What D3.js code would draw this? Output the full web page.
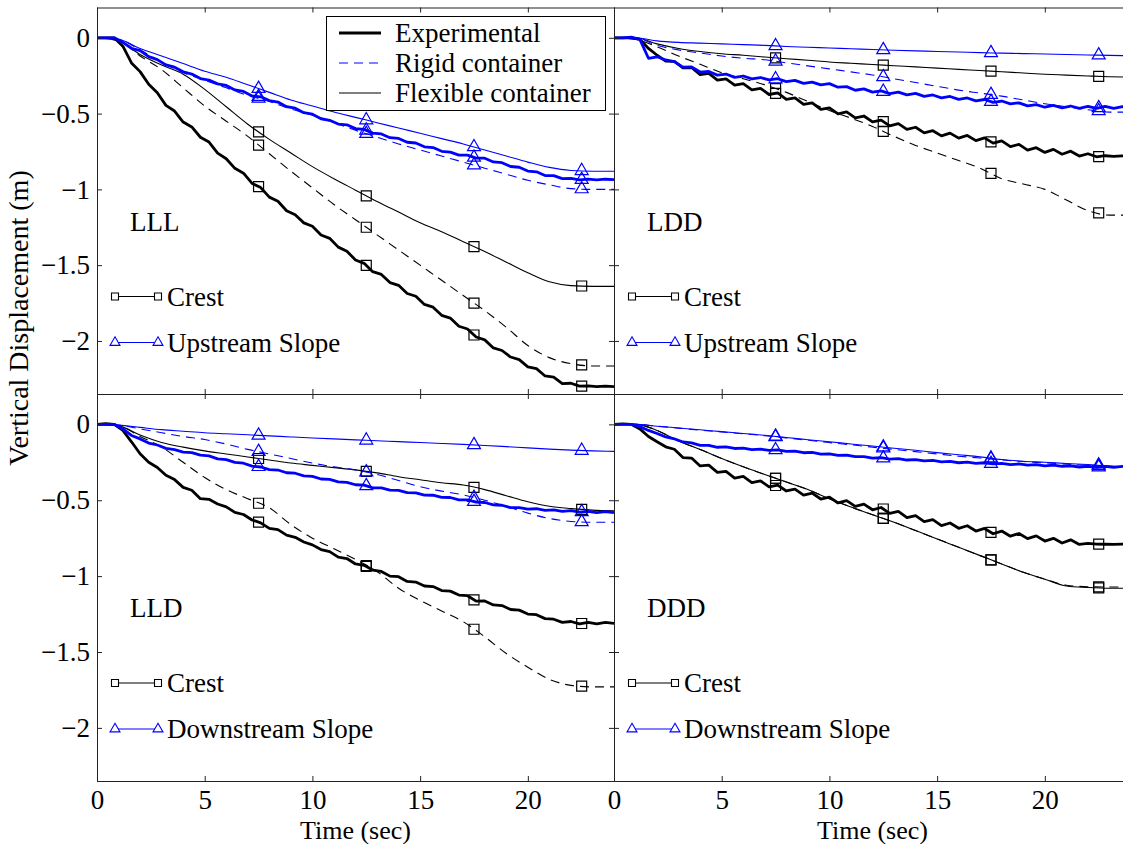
<!DOCTYPE html>
<html>
<head>
<meta charset="utf-8">
<script src="https://cdn.jsdelivr.net/npm/d3@7"></script>
<style>
  html, body { margin: 0; padding: 0; background: #fff; }
  svg { display: block; }
</style>
</head>
<body>
<div id="chart"></div>
<script>
// time grids (sec): simulations read every 1 s, experiments every 0.4 s
const tSim = [0,1,2,3,4,5,6,7,8,9,10,11,12,13,14,15,16,17,18,19,20,21,22,23,24];
const tExp = [0,0.4,0.8,1.2,1.6,2,2.4,2.8,3.2,3.6,4,4.4,4.8,5.2,5.6,6,6.4,6.8,7.2,7.6,8,8.4,8.8,9.2,9.6,
  10,10.4,10.8,11.2,11.6,12,12.4,12.8,13.2,13.6,14,14.4,14.8,15.2,15.6,16,16.4,16.8,17.2,17.6,18,18.4,18.8,
  19.2,19.6,20,20.4,20.8,21.2,21.6,22,22.4,22.8,23.2,23.6,24];
const markerTimes = [7.5, 12.5, 17.5, 22.5];
const xTicks = [0, 5, 10, 15, 20];
const yTicks = [0, -0.5, -1, -1.5, -2];

// ---- LLL ----
const lllCrestExp = [0,0,0,-0.055,-0.166,-0.223,-0.306,-0.363,-0.446,-0.483,-0.556,-0.588,-0.656,-0.688,-0.761,-0.798,
  -0.861,-0.893,-0.961,-0.988,-1.051,-1.078,-1.141,-1.168,-1.221,-1.243,-1.301,-1.323,-1.381,-1.408,-1.466,-1.488,
  -1.543,-1.561,-1.615,-1.633,-1.687,-1.705,-1.759,-1.777,-1.831,-1.849,-1.903,-1.921,-1.974,-1.993,-2.046,-2.063,
  -2.106,-2.123,-2.171,-2.183,-2.231,-2.238,-2.281,-2.279,-2.298,-2.296,-2.302,-2.298,-2.301];
const lllCrestRigid = [0,-0.02,-0.12,-0.21,-0.33,-0.45,-0.55,-0.65,-0.765,-0.88,-0.99,-1.1,-1.2,-1.3,-1.4,-1.5,-1.6,-1.7,-1.8,-1.91,-2.03,-2.11,-2.15,-2.165,-2.165];
const lllCrestFlex = [0,-0.02,-0.11,-0.18,-0.24,-0.34,-0.455,-0.57,-0.67,-0.76,-0.85,-0.93,-1.005,-1.08,-1.15,-1.22,-1.28,-1.345,-1.41,-1.48,-1.55,-1.61,-1.635,-1.64,-1.64];
const lllSlopeExp = [0,0,0,-0.03,-0.069,-0.084,-0.124,-0.144,-0.179,-0.194,-0.224,-0.239,-0.269,-0.279,-0.304,-0.314,
  -0.344,-0.354,-0.384,-0.389,-0.414,-0.424,-0.454,-0.464,-0.494,-0.504,-0.534,-0.544,-0.569,-0.574,-0.599,-0.604,
  -0.629,-0.634,-0.659,-0.664,-0.689,-0.694,-0.719,-0.724,-0.749,-0.754,-0.774,-0.774,-0.794,-0.794,-0.819,-0.824,
  -0.849,-0.854,-0.879,-0.884,-0.909,-0.909,-0.929,-0.927,-0.937,-0.932,-0.937,-0.933,-0.936];
const lllSlopeRigid = [0,-0.01,-0.08,-0.16,-0.23,-0.28,-0.33,-0.38,-0.42,-0.47,-0.51,-0.56,-0.61,-0.655,-0.7,-0.74,-0.78,-0.82,-0.86,-0.9,-0.94,-0.97,-0.995,-1,-1];
const lllSlopeFlex = [0,-0.01,-0.07,-0.12,-0.17,-0.22,-0.26,-0.31,-0.36,-0.41,-0.45,-0.49,-0.525,-0.56,-0.595,-0.63,-0.665,-0.7,-0.74,-0.78,-0.82,-0.855,-0.875,-0.88,-0.88];

// ---- LDD ----
const lddCrestExp = [0,0,0,-0.01,-0.07,-0.115,-0.154,-0.156,-0.199,-0.196,-0.243,-0.235,-0.279,-0.271,-0.312,-0.302,
  -0.343,-0.333,-0.374,-0.364,-0.406,-0.397,-0.439,-0.429,-0.472,-0.462,-0.502,-0.489,-0.528,-0.516,-0.555,-0.543,
  -0.581,-0.566,-0.604,-0.59,-0.627,-0.613,-0.647,-0.629,-0.662,-0.644,-0.678,-0.66,-0.695,-0.68,-0.718,-0.703,
  -0.741,-0.725,-0.756,-0.736,-0.768,-0.748,-0.78,-0.765,-0.785,-0.778,-0.782,-0.779,-0.781];
const lddCrestRigid = [0,-0.01,-0.06,-0.12,-0.175,-0.23,-0.27,-0.31,-0.36,-0.42,-0.48,-0.53,-0.585,-0.65,-0.71,-0.76,-0.81,-0.86,-0.93,-0.965,-1,-1.07,-1.14,-1.17,-1.17];
const lddCrestFlex = [0,0,-0.04,-0.07,-0.09,-0.105,-0.115,-0.127,-0.138,-0.148,-0.16,-0.168,-0.176,-0.184,-0.192,-0.2,-0.208,-0.216,-0.224,-0.232,-0.24,-0.246,-0.252,-0.257,-0.26];
const lddSlopeExp = [0,0,0.005,-0.01,-0.135,-0.125,-0.146,-0.157,-0.193,-0.192,-0.226,-0.222,-0.246,-0.239,-0.261,-0.252,
  -0.271,-0.262,-0.278,-0.27,-0.289,-0.281,-0.301,-0.292,-0.311,-0.302,-0.326,-0.322,-0.346,-0.337,-0.358,-0.35,
  -0.368,-0.358,-0.376,-0.367,-0.386,-0.377,-0.396,-0.387,-0.406,-0.397,-0.416,-0.407,-0.426,-0.417,-0.436,-0.429,
  -0.449,-0.441,-0.458,-0.446,-0.462,-0.45,-0.465,-0.452,-0.466,-0.452,-0.466,-0.454,-0.462];
const lddSlopeRigid = [0,0,-0.05,-0.08,-0.1,-0.12,-0.135,-0.145,-0.165,-0.185,-0.205,-0.225,-0.245,-0.27,-0.295,-0.32,-0.345,-0.365,-0.385,-0.41,-0.435,-0.455,-0.475,-0.49,-0.49];
const lddSlopeFlex = [0,0,-0.02,-0.03,-0.035,-0.04,-0.045,-0.05,-0.057,-0.062,-0.067,-0.072,-0.077,-0.082,-0.086,-0.09,-0.094,-0.098,-0.101,-0.104,-0.107,-0.11,-0.113,-0.116,-0.118];

// ---- LLD ----
const lldCrestExp = [0,0.005,0,-0.04,-0.115,-0.194,-0.25,-0.284,-0.335,-0.364,-0.415,-0.434,-0.49,-0.494,-0.525,-0.544,
  -0.58,-0.594,-0.63,-0.649,-0.685,-0.694,-0.73,-0.744,-0.775,-0.794,-0.825,-0.839,-0.875,-0.884,-0.92,-0.929,
  -0.96,-0.969,-1,-1.004,-1.035,-1.039,-1.065,-1.069,-1.095,-1.099,-1.125,-1.129,-1.165,-1.164,-1.19,-1.194,
  -1.22,-1.224,-1.25,-1.254,-1.28,-1.284,-1.305,-1.299,-1.315,-1.304,-1.315,-1.305,-1.312];
const lldCrestRigid = [0,-0.01,-0.08,-0.15,-0.25,-0.35,-0.43,-0.49,-0.55,-0.66,-0.75,-0.82,-0.89,-0.97,-1.08,-1.16,-1.23,-1.3,-1.4,-1.51,-1.6,-1.68,-1.72,-1.73,-1.73];
const lldCrestFlex = [0,-0.01,-0.07,-0.12,-0.15,-0.175,-0.195,-0.215,-0.235,-0.255,-0.27,-0.285,-0.3,-0.32,-0.345,-0.365,-0.385,-0.4,-0.43,-0.47,-0.51,-0.54,-0.555,-0.565,-0.57];
const lldSlopeExp = [0,0,0,-0.03,-0.073,-0.096,-0.123,-0.136,-0.158,-0.166,-0.183,-0.186,-0.203,-0.208,-0.227,-0.232,
  -0.251,-0.256,-0.275,-0.281,-0.298,-0.301,-0.319,-0.322,-0.34,-0.343,-0.36,-0.362,-0.379,-0.382,-0.398,-0.401,
  -0.418,-0.419,-0.434,-0.435,-0.45,-0.451,-0.466,-0.467,-0.481,-0.482,-0.497,-0.498,-0.513,-0.515,-0.531,-0.533,
  -0.549,-0.549,-0.559,-0.556,-0.567,-0.563,-0.573,-0.568,-0.578,-0.573,-0.581,-0.575,-0.582];
const lldSlopeRigid = [0,-0.005,-0.03,-0.055,-0.08,-0.1,-0.13,-0.165,-0.195,-0.225,-0.255,-0.28,-0.3,-0.33,-0.37,-0.41,-0.44,-0.465,-0.5,-0.54,-0.585,-0.62,-0.64,-0.645,-0.645];
const lldSlopeFlex = [0,-0.005,-0.02,-0.035,-0.045,-0.055,-0.062,-0.069,-0.076,-0.083,-0.09,-0.096,-0.102,-0.108,-0.114,-0.12,-0.126,-0.132,-0.139,-0.147,-0.155,-0.163,-0.17,-0.175,-0.178];

// ---- DDD ----
const dddCrestExp = [0,0.003,0,-0.03,-0.08,-0.115,-0.148,-0.164,-0.219,-0.222,-0.274,-0.269,-0.316,-0.31,-0.354,-0.343,
  -0.384,-0.372,-0.412,-0.4,-0.439,-0.427,-0.466,-0.453,-0.492,-0.48,-0.518,-0.503,-0.54,-0.526,-0.563,-0.548,
  -0.587,-0.574,-0.614,-0.601,-0.641,-0.628,-0.667,-0.65,-0.685,-0.668,-0.703,-0.686,-0.721,-0.703,-0.737,-0.719,
  -0.753,-0.735,-0.769,-0.751,-0.782,-0.761,-0.791,-0.784,-0.789,-0.79,-0.791,-0.789,-0.79];
const dddCrestRigid = [0,0,-0.04,-0.11,-0.165,-0.225,-0.28,-0.33,-0.38,-0.43,-0.49,-0.545,-0.595,-0.645,-0.7,-0.755,-0.81,-0.865,-0.92,-0.975,-1.02,-1.06,-1.07,-1.072,-1.072];
const dddCrestFlex = [0,0,-0.04,-0.11,-0.165,-0.225,-0.28,-0.33,-0.38,-0.43,-0.49,-0.545,-0.595,-0.645,-0.7,-0.755,-0.81,-0.865,-0.92,-0.975,-1.02,-1.065,-1.075,-1.08,-1.08];
const dddSlopeExp = [0,0,0,-0.015,-0.04,-0.06,-0.083,-0.095,-0.116,-0.122,-0.138,-0.139,-0.151,-0.149,-0.159,-0.157,
  -0.166,-0.163,-0.171,-0.168,-0.178,-0.176,-0.187,-0.185,-0.196,-0.194,-0.205,-0.203,-0.213,-0.212,-0.222,-0.22,
  -0.229,-0.226,-0.235,-0.232,-0.241,-0.238,-0.247,-0.244,-0.253,-0.249,-0.257,-0.253,-0.261,-0.257,-0.265,-0.261,
  -0.269,-0.265,-0.273,-0.269,-0.277,-0.273,-0.281,-0.276,-0.283,-0.277,-0.283,-0.277,-0.282];
const dddSlopeRigid = [0,0,-0.012,-0.025,-0.038,-0.05,-0.062,-0.075,-0.09,-0.105,-0.12,-0.135,-0.15,-0.165,-0.18,-0.195,-0.21,-0.222,-0.235,-0.245,-0.254,-0.262,-0.27,-0.276,-0.28];
const dddSlopeFlex = [0,0,-0.012,-0.024,-0.036,-0.048,-0.06,-0.072,-0.087,-0.101,-0.115,-0.129,-0.143,-0.157,-0.171,-0.186,-0.2,-0.214,-0.232,-0.243,-0.25,-0.258,-0.265,-0.274,-0.28];

// panel table built from the arrays above
const panels = [
  {label: "LLL", col: 0, row: 0, slopeName: "Upstream Slope",
   crest: [lllCrestFlex, lllCrestRigid, lllCrestExp], slope: [lllSlopeFlex, lllSlopeRigid, lllSlopeExp]},
  {label: "LDD", col: 1, row: 0, slopeName: "Upstream Slope",
   crest: [lddCrestFlex, lddCrestRigid, lddCrestExp], slope: [lddSlopeFlex, lddSlopeRigid, lddSlopeExp]},
  {label: "LLD", col: 0, row: 1, slopeName: "Downstream Slope",
   crest: [lldCrestFlex, lldCrestRigid, lldCrestExp], slope: [lldSlopeFlex, lldSlopeRigid, lldSlopeExp]},
  {label: "DDD", col: 1, row: 1, slopeName: "Downstream Slope",
   crest: [dddCrestFlex, dddCrestRigid, dddCrestExp], slope: [dddSlopeFlex, dddSlopeRigid, dddSlopeExp]}
];

const W = 1123, H = 844;
const FONT = "'Liberation Serif', 'Times New Roman', serif";
const FS = 27;                  // text size used across the figure
const BLUE = "#0000ff";
const PW = 517;                 // panel width (right column runs past the crop)
const colLeft = [97, 614];
const rowTop = [7.5, 394];
const rowBottom = [394, 781];

// order inside crest/slope: flexible, rigid, experimental
const styles = [
  {times: tSim, width: 1.1, dash: null, curve: d3.curveMonotoneX},
  {times: tSim, width: 1.1, dash: "9,6", curve: d3.curveMonotoneX},
  {times: tExp, width: 2.8, dash: null, curve: d3.curveLinear}
];

const svg = d3.select("#chart").append("svg")
  .attr("width", W).attr("height", H)
  .style("font-family", FONT);

const squareSym = size => d3.symbol().type(d3.symbolSquare).size(size)();
const triSym = size => d3.symbol().type(d3.symbolTriangle).size(size)();

panels.forEach((p, i) => {
  const left = colLeft[p.col], top = rowTop[p.row], bottom = rowBottom[p.row];
  const x = d3.scaleLinear().domain([0, 24]).range([left, left + PW]);
  const y = d3.scaleLinear().domain([0.2, -2.35]).range([top, bottom]);

  const g = svg.append("g");
  svg.append("clipPath").attr("id", "clip" + i)
    .append("rect").attr("x", left).attr("y", top).attr("width", PW).attr("height", bottom - top);
  const plot = g.append("g").attr("clip-path", `url(#clip${i})`);

  const groups = [
    {series: p.crest, color: "#000", marker: squareSym(100)},
    {series: p.slope, color: BLUE, marker: triSym(73)}
  ];

  groups.forEach(grp => {
    grp.series.forEach((vals, k) => {
      const st = styles[k];
      const pts = d3.zip(st.times, vals);
      const line = d3.line().x(d => x(d[0])).y(d => y(d[1])).curve(st.curve);
      plot.append("path")
        .attr("d", line(pts))
        .attr("fill", "none")
        .attr("stroke", grp.color)
        .attr("stroke-width", st.width)
        .attr("stroke-dasharray", st.dash)
        .attr("stroke-linejoin", "round");
    });
  });

  // markers every 5 s, placed on each curve
  groups.forEach(grp => {
    grp.series.forEach((vals, k) => {
      const at = d3.scaleLinear().domain(styles[k].times).range(vals);
      plot.selectAll(null).data(markerTimes).join("path")
        .attr("d", grp.marker)
        .attr("transform", t => `translate(${x(t)},${y(at(t))})`)
        .attr("fill", "none")
        .attr("stroke", grp.color)
        .attr("stroke-width", 1.2);
    });
  });

  // frame
  g.append("rect")
    .attr("x", left + 0.5).attr("y", top + 0.5)
    .attr("width", PW).attr("height", bottom - top)
    .attr("fill", "none").attr("stroke", "#222").attr("stroke-width", 1);

  // axes, ticks pointing inwards on all four sides
  const style = a => {
    a.select(".domain").remove();
    a.attr("font-family", FONT).attr("font-size", FS);
    a.selectAll("line").attr("stroke", "#222");
    a.selectAll("text").attr("fill", "#000");
  };
  const noLabel = () => "";
  g.append("g").attr("transform", `translate(0,${bottom})`)
    .call(d3.axisBottom(x).tickValues(xTicks).tickSizeInner(-5).tickSizeOuter(0).tickPadding(9)
      .tickFormat(p.row === 1 ? d3.format("") : noLabel))
    .call(style);
  g.append("g").attr("transform", `translate(0,${top})`)
    .call(d3.axisTop(x).tickValues(xTicks).tickSizeInner(-5).tickSizeOuter(0).tickFormat(noLabel))
    .call(style);
  g.append("g").attr("transform", `translate(${left},0)`)
    .call(d3.axisLeft(y).tickValues(yTicks).tickSizeInner(-5).tickSizeOuter(0).tickPadding(7)
      .tickFormat(p.col === 0 ? d3.format("") : noLabel))
    .call(style);
  g.append("g").attr("transform", `translate(${left + PW},0)`)
    .call(d3.axisRight(y).tickValues(yTicks).tickSizeInner(-5).tickSizeOuter(0).tickFormat(noLabel))
    .call(style);

  // case label
  g.append("text").attr("x", left + 33).attr("y", top + 223)
    .attr("font-size", FS).text(p.label);

  // crest / slope key
  const keys = [
    {name: "Crest", color: "#000", marker: squareSym(49), dy: 289},
    {name: p.slopeName, color: BLUE, marker: triSym(43), dy: 335}
  ];
  keys.forEach(kk => {
    const ky = top + kk.dy;
    g.append("line").attr("x1", left + 18).attr("x2", left + 61).attr("y1", ky).attr("y2", ky)
      .attr("stroke", kk.color).attr("stroke-width", 1.1);
    [left + 18, left + 61].forEach(mx => {
      g.append("path").attr("d", kk.marker).attr("transform", `translate(${mx},${ky})`)
        .attr("fill", "#fff").attr("stroke", kk.color).attr("stroke-width", 1.1);
    });
    g.append("text").attr("x", left + 70).attr("y", ky).attr("dy", "0.35em")
      .attr("font-size", FS).text(kk.name);
  });

  // x label under bottom row
  if (p.row === 1) {
    g.append("text").attr("x", left + PW / 2).attr("y", 839)
      .attr("text-anchor", "middle").attr("font-size", FS - 1).text("Time (sec)");
  }
});

// main legend (upper left panel)
const legendItems = [
  {name: "Experimental", color: "#000", width: 2.8, dash: null},
  {name: "Rigid container", color: BLUE, width: 1.1, dash: "9,6"},
  {name: "Flexible container", color: "#000", width: 1.1, dash: null}
];
const lg = svg.append("g");
lg.append("rect").attr("x", 326.5).attr("y", 16.5).attr("width", 279).attr("height", 94)
  .attr("fill", "#fff").attr("stroke", "#000").attr("stroke-width", 1);
legendItems.forEach((it, i) => {
  const ly = 33 + i * 30;
  lg.append("line").attr("x1", 339).attr("x2", 381).attr("y1", ly).attr("y2", ly)
    .attr("stroke", it.color).attr("stroke-width", it.width).attr("stroke-dasharray", it.dash);
  lg.append("text").attr("x", 395).attr("y", ly).attr("dy", "0.35em")
    .attr("font-size", FS).text(it.name);
});

// shared y label
svg.append("text")
  .attr("transform", "translate(28,318) rotate(-90)")
  .attr("text-anchor", "middle")
  .attr("font-size", 28)
  .text("Vertical Displacement (m)");
</script>
</body>
</html>
